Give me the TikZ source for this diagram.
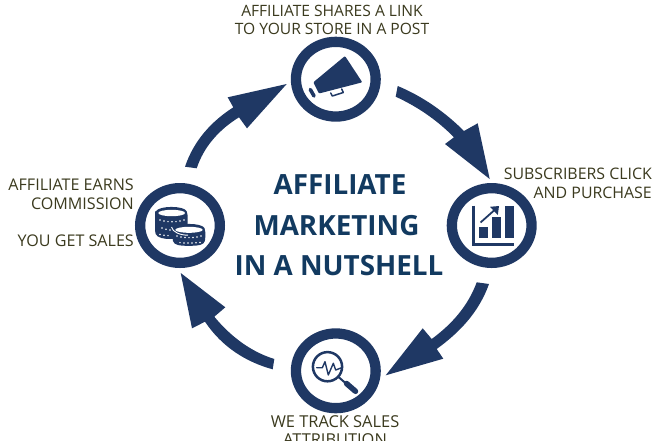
\documentclass[tikz,border=0pt]{standalone}
\usepackage{fontspec}
\setmainfont{Open Sans}
\usetikzlibrary{arrows.meta,shapes.geometric}
\definecolor{navy}{HTML}{1F3864}
\definecolor{titlec}{HTML}{123A60}
\definecolor{labelc}{HTML}{3B3A1E}
\tikzset{
  ring/.style={ellipse,draw=navy,line width=10.3pt,fill=white,minimum width=79.7pt,minimum height=74.7pt,inner sep=0pt},
  lab/.style={text=labelc,font=\fontsize{#1}{18}\selectfont,inner sep=0pt},
  ttl/.style={text=titlec,font=\fontsize{27.8}{29}\selectfont\bfseries,inner sep=0pt,anchor=base},
  band/.style={fill=navy,draw=none},
  ink/.style={fill=navy,draw=none},
  inkline/.style={draw=navy,line cap=round,line join=round}
}
\begin{document}
\begin{tikzpicture}[x=1pt,y=-1pt]
\useasboundingbox (0,0) rectangle (660,440);
\clip (0,0) rectangle (660,440);
\fill[white] (0,0) rectangle (660,440);
% rings
\node[ring] (top) at (335.8,79.2) {};
\node[ring] (right) at (491.7,225.5) {};
\node[ring] (bottom) at (335.8,370.8) {};
\node[ring] (left) at (180,225.5) {};
% arrows
\fill[band] (397.7,86) .. controls (422,96) and (445,112) .. (464,131) -- (477.7,123.3) -- (489.7,179) -- (445,144) -- (454,137.3) .. controls (436,119) and (416,106) .. (395.7,96.7) -- cycle;
\fill[band] (489,284) .. controls (479,312) and (460,332) .. (436.7,349) -- (443.3,358.7) -- (385.7,375.3) -- (422.7,328.3) -- (431.7,339) .. controls (452,324) and (468,306) .. (476.7,282.3) -- cycle;
\fill[band] (274.3,359) .. controls (252,352) and (232,338) .. (214.3,316.7) -- (225.3,307.3) -- (180.7,273) -- (192,328.3) -- (205,321.7) .. controls (222,347) and (246,362) .. (272.7,369.3) -- cycle;
\fill[band] (185,166.7) .. controls (194,140) and (212,121) .. (233.3,107.3) -- (227.7,97.3) -- (286.7,84) -- (247,128.3) -- (239,117.3) .. controls (220,129) and (204,146) .. (196.7,168.3) -- cycle;
% megaphone
\fill[ink,rounded corners=1pt] (345,56) -- (362.3,82.3) -- (319,93.5) -- (313.3,82.3) -- cycle;
\draw[inkline,line width=3.6pt] (310.3,89.5) -- (314,96);
\draw[inkline,line width=1.5pt] (330.7,93) -- (332.3,96) -- (343.3,92.5) -- (341.7,89);
% chart
\draw[navy,line width=2.6pt] (473.3,205.7) -- (473.3,244.5) -- (514,244.5);
\fill[ink] (479.3,227.3) rectangle (488.3,238.3);
\fill[ink] (492.3,217.3) rectangle (501,238.3);
\fill[ink] (505,205.7) rectangle (514,238.3);
\draw[navy,line width=1.8pt] (480.5,222.5) -- (494,210.5);
\fill[ink] (499,206) -- (490,206.8) -- (497.8,215) -- cycle;
% magnifier
\draw[navy,line width=2.5pt] (327.5,366.7) circle (14.6);
\draw[navy,line width=2pt] (338.5,377) -- (346,383.5);
\draw[inkline,line width=5.5pt] (346.5,383.5) -- (355.5,391.3);
\draw[inkline,line width=1.4pt] (316.7,367.7) -- (322.3,367.7) -- (325,361.7) -- (328.3,375) -- (333.3,363.3) -- (335.7,370) -- (341.7,367.7);
% coins
\fill[ink,rounded corners=2pt] (155,213) -- (155,232) .. controls (157,238) and (165,239) .. (172,239) -- (188,236) -- (187.5,213) .. controls (184,205.5) and (159,205.5) .. (155,213) -- cycle;
\fill[ink,rounded corners=2pt] (172.5,230) -- (172.5,239) .. controls (174,245.5) and (181,245.8) .. (189,245.8) .. controls (198,245.8) and (204,245) .. (205.3,239) -- (205.3,230) .. controls (202,222.5) and (176,222.5) .. (172.5,230) -- cycle;
\fill[white] (171.7,213) ellipse (13.4 and 3.2);
\fill[white] (189,229.8) ellipse (13.7 and 3);
\draw[white,line width=0.9pt] (171.5,227) .. controls (172.5,232) and (180,235.2) .. (188,235.2);
\foreach \p in {(160,220),(164,221),(168,221.6),(172,221.8),(176,221.6),(180,221),(184,220),
 (162,228),(166,229.3),(170,230),(160,234.5),(164,235.3),(168,235.6),
 (177,236),(181,237),(185,237.4),(189,237.6),(193,237.4),(197,237),(201,236),
 (180,242.6),(184,242.9),(188,243),(192,243),(196,242.8),(200,242.4)}
  \fill[white] \p circle (0.85);
% labels
\node[lab=15.6,anchor=base] (ltop1) at (332,16) {AFFILIATE SHARES A LINK};
\node[lab=15.6,anchor=base] (ltop2) at (332,34) {TO YOUR STORE IN A POST};
\node[lab=15.9,anchor=base east] (lright1) at (652,179) {SUBSCRIBERS CLICK};
\node[lab=15.9,anchor=base east] (lright2) at (652,198.5) {AND PURCHASE};
\node[lab=16.4,anchor=base] (lbot1) at (335,427) {WE TRACK SALES};
\node[lab=16.4,anchor=base] (lbot2) at (335,445) {ATTRIBUTION};
\node[lab=16.1,anchor=base east] (lleft1) at (134,190) {AFFILIATE EARNS};
\node[lab=16.1,anchor=base east] (lleft2) at (134,209) {COMMISSION};
\node[lab=16.1,anchor=base east] (lleft3) at (134,246) {YOU GET SALES};
% title
\node[ttl] (t1) at (340,194.5) {AFFILIATE};
\node[ttl] (t2) at (336.5,235) {MARKETING};
\node[ttl] (t3) at (339,275.5) {IN A NUTSHELL};
\end{tikzpicture}
\end{document}
